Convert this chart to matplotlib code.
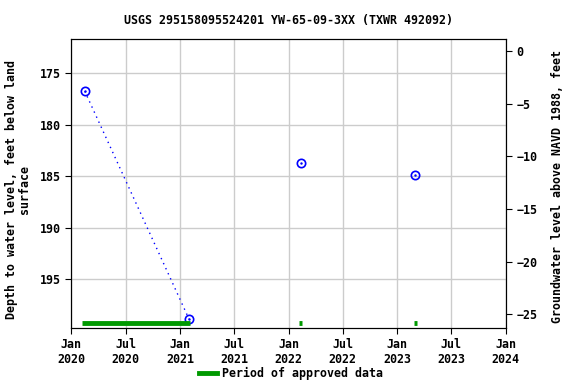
import matplotlib
matplotlib.use("Agg")
import matplotlib.pyplot as plt
from matplotlib.lines import Line2D
from datetime import datetime

# Data
dates = ["2020-02-15", "2021-01-31", "2022-02-10", "2023-03-03"]
depth = [176.75, 198.9, 183.76, 184.93]
connected_segments = [[0, 1]]  # indices joined by dotted line
approved_start = ["2020-02-06", "2022-02-03", "2023-02-25"]
approved_end = ["2021-02-04", "2022-02-16", "2023-03-09"]

title = "USGS 295158095524201 YW-65-09-3XX (TXWR 492092)"
xtick_dates = ["2020-01-01", "2020-07-01", "2021-01-01", "2021-07-01", "2022-01-01",
               "2022-07-01", "2023-01-01", "2023-07-01", "2024-01-01"]
xtick_labels = ["Jan\n2020", "Jul\n2020", "Jan\n2021", "Jul\n2021", "Jan\n2022",
                "Jul\n2022", "Jan\n2023", "Jul\n2023", "Jan\n2024"]
left_ticks = [175, 180, 185, 190, 195]
right_ticks = [0, -5, -10, -15, -20, -25]

to_dt = lambda s: datetime.strptime(s, "%Y-%m-%d")
d = [to_dt(s) for s in dates]

FS = 8.4
plt.rcParams["font.family"] = "DejaVu Sans Mono"
plt.rcParams["font.weight"] = "bold"
plt.rcParams["font.size"] = FS

fig = plt.figure(figsize=(5.76, 3.84), dpi=100)
ax = fig.add_axes([0.124, 0.146, 0.754, 0.752])

ax.grid(True, color="#cccccc", linewidth=1)
ax.set_axisbelow(True)

for seg in connected_segments:
    ax.plot([d[i] for i in seg], [depth[i] for i in seg], linestyle=(0, (1, 3)),
            color="blue", linewidth=1)
ax.plot(d, depth, linestyle="none", marker="o", markersize=6, markerfacecolor="none",
        markeredgecolor="blue", markeredgewidth=1.2)
ax.plot(d, depth, linestyle="none", marker=".", markersize=1.5, color="blue")

for s, e in zip(approved_start, approved_end):
    ax.plot([to_dt(s), to_dt(e)], [199.3, 199.3], color="#009900", linewidth=3.5,
            solid_capstyle="butt")

ax.set_xlim(to_dt("2020-01-01"), to_dt("2024-01-01"))
ax.set_ylim(199.74, 171.69)
ax.set_xticks([to_dt(s) for s in xtick_dates])
ax.set_xticklabels(xtick_labels)
ax.set_yticks(left_ticks)
ax.set_ylabel("Depth to water level, feet below land\nsurface", fontsize=FS,
              fontweight="bold", linespacing=1.0)
ax.yaxis.set_label_coords(-0.093, 0.481)
ax.set_title(title, fontsize=FS, fontweight="bold", pad=11)
ax.tick_params(direction="out", length=4)

ax2 = ax.twinx()
ax2.set_ylim(-26.3, 1.11)
ax2.set_yticks(right_ticks)
ax2.set_ylabel("Groundwater level above NAVD 1988, feet", fontsize=FS, fontweight="bold")
ax2.yaxis.set_label_coords(1.105, 0.49)
ax2.tick_params(direction="out", length=4)

h = [Line2D([0], [0], color="#009900", linewidth=3.5)]
fig.legend(h, ["Period of approved data"], loc="lower center", bbox_to_anchor=(0.505, -0.016),
           frameon=False, fontsize=FS, handlelength=1.55, handletextpad=0.45)

fig.savefig("out.png", dpi=100)
